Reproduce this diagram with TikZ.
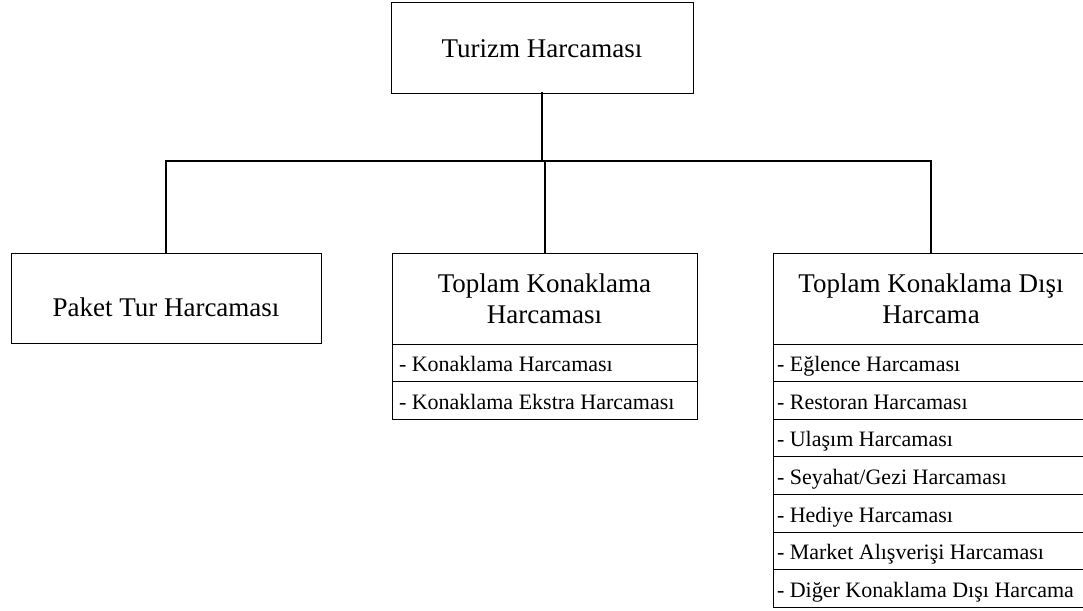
\documentclass[tikz,border=0pt]{standalone}
\usepackage{fontspec}
\setmainfont{Liberation Serif}
\newcommand{\myrow}[1]{\hbox{\spaceskip=0pt\relax #1}}
\tikzset{
  box/.style={draw=black, line width=1pt, outer sep=0pt, inner sep=0pt, align=center,
    font=\fontsize{27}{31}\selectfont},
  rowbox/.style={draw=black, line width=1pt, outer sep=0pt, inner xsep=7pt, inner ysep=0pt,
    minimum height=37.6pt, text height=20pt, text depth=2.4pt, align=left,
    font=\fontsize{22}{24}\selectfont},
  rowboxr/.style={rowbox, inner xsep=4pt, text width=308pt},
  conn/.style={draw=black, line width=2pt, line join=miter, line cap=rect}
}
\begin{document}
\begin{tikzpicture}[x=1pt,y=-1pt]
\useasboundingbox (0,0) rectangle (1083,610);
% top
\node[box, minimum width=302pt, minimum height=90pt, text height=20pt, text depth=2pt] (top) at (542,48) {Turizm Harcaması};
% left
\node[box, minimum width=310pt, minimum height=90pt, text height=36pt, text depth=0pt] (left) at (166,298) {Paket Tur Harcaması};
% middle
\node[box, minimum width=305pt, minimum height=91pt] (mid) at (544.5,298.5) {Toplam Konaklama\\Harcaması};
\node[rowbox, text width=291pt, anchor=north] (m1) at (mid.south) {\myrow{- Konaklama Harcaması}};
\node[rowbox, text width=291pt, anchor=north] (m2) at (m1.south) {\myrow{- Konaklama Ekstra Harcaması}};
% right
\node[box, minimum width=316pt, minimum height=91pt] (right) at (931,298.5) {Toplam Konaklama Dışı\\Harcama};
\node[rowboxr, anchor=north] (r1) at (right.south) {\myrow{- Eğlence Harcaması}};
\node[rowboxr, anchor=north] (r2) at (r1.south) {\myrow{- Restoran Harcaması}};
\node[rowboxr, anchor=north] (r3) at (r2.south) {\myrow{- Ulaşım Harcaması}};
\node[rowboxr, anchor=north] (r4) at (r3.south) {\myrow{- Seyahat/Gezi Harcaması}};
\node[rowboxr, anchor=north] (r5) at (r4.south) {\myrow{- Hediye Harcaması}};
\node[rowboxr, anchor=north] (r6) at (r5.south) {\myrow{- Market Alışverişi Harcaması}};
\node[rowboxr, anchor=north] (r7) at (r6.south) {\myrow{- Diğer Konaklama Dışı Harcama}};
% connectors
\coordinate (bar) at (542,161);
\draw[conn] (top.south) -- (top.south |- bar);
\draw[conn] (left.north) |- (right.north |- bar) -- (right.north);
\draw[conn] (mid.north) -- (mid.north |- bar);
\end{tikzpicture}
\end{document}
